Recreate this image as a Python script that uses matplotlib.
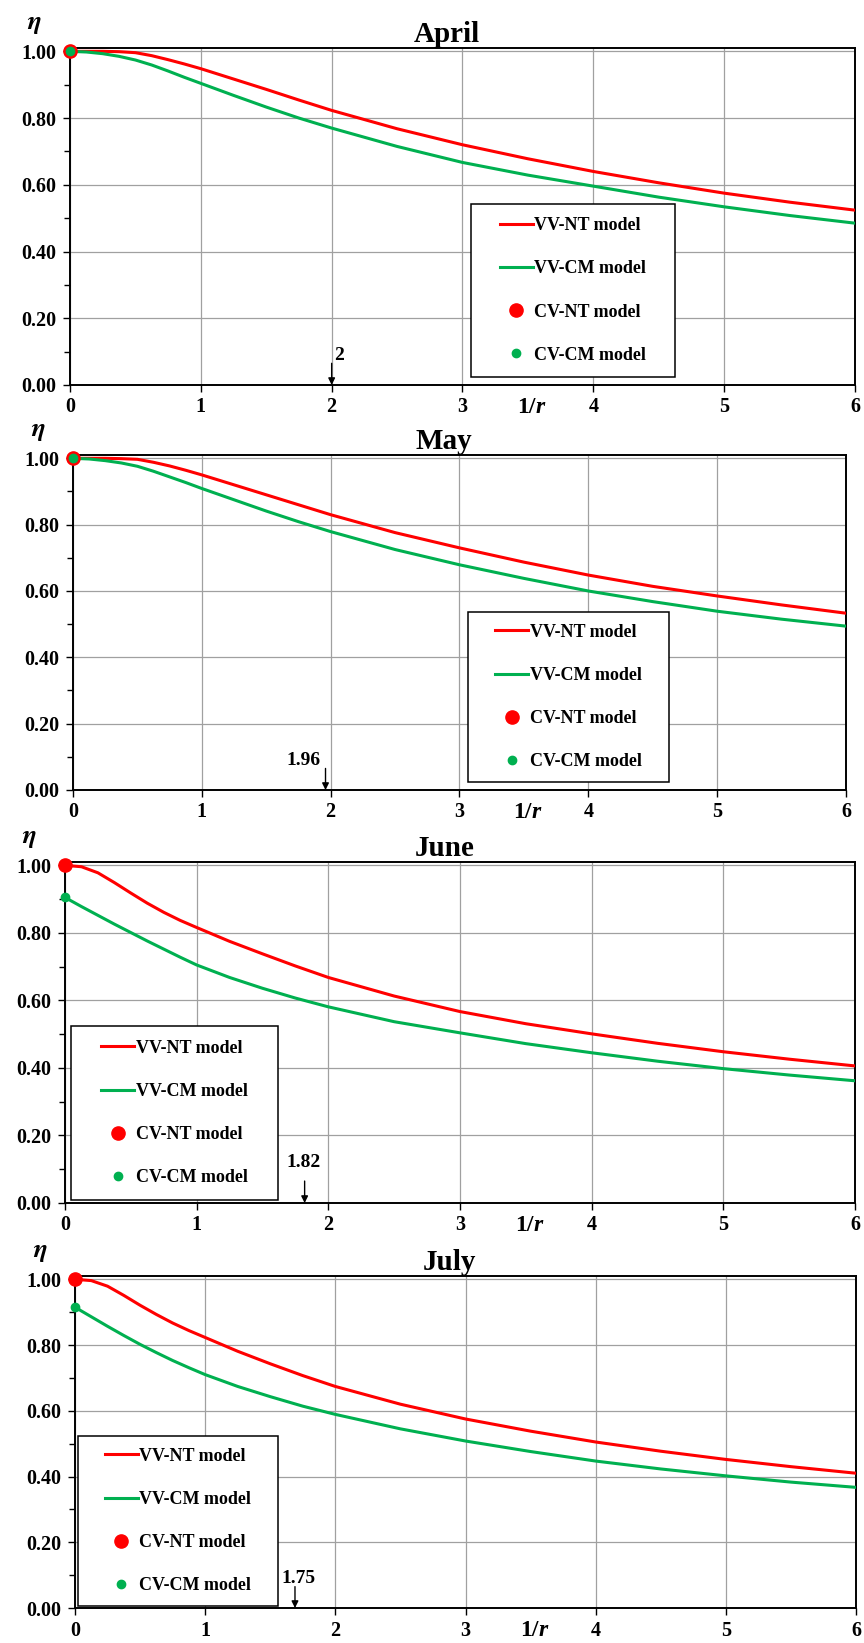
import matplotlib
matplotlib.use('Agg')
import matplotlib.pyplot as plt
from matplotlib.ticker import MultipleLocator, FormatStrFormatter
from matplotlib.lines import Line2D
from matplotlib.patches import Rectangle

plt.rcParams['font.family'] = 'Liberation Serif'
plt.rcParams['font.weight'] = 'bold'
plt.rcParams['mathtext.fontset'] = 'stix'

# 1/r sample points shared by all months
x_vals = [0, 0.125, 0.25, 0.375, 0.5, 0.625, 0.75, 0.875, 1, 1.25, 1.5, 1.75, 2,
          2.5, 3, 3.5, 4, 4.5, 5, 5.5, 6]

months = ['April', 'May', 'June', 'July']

vv_nt = {
    'April': [1.0, 1.0, 1.0, 0.999, 0.996, 0.987, 0.975, 0.962, 0.948, 0.917, 0.886, 0.854, 0.823,
              0.768, 0.720, 0.678, 0.640, 0.606, 0.575, 0.548, 0.524],
    'May':   [1.0, 1.0, 1.0, 0.999, 0.997, 0.988, 0.977, 0.964, 0.950, 0.920, 0.890, 0.860, 0.830,
              0.776, 0.730, 0.687, 0.648, 0.614, 0.585, 0.558, 0.533],
    'June':  [1.0, 0.996, 0.978, 0.949, 0.918, 0.888, 0.861, 0.837, 0.816, 0.775, 0.738, 0.702, 0.668,
              0.613, 0.567, 0.531, 0.501, 0.473, 0.448, 0.426, 0.406],
    'July':  [1.0, 0.996, 0.979, 0.951, 0.921, 0.893, 0.867, 0.844, 0.823, 0.781, 0.743, 0.707, 0.674,
              0.620, 0.575, 0.538, 0.505, 0.477, 0.452, 0.430, 0.410],
}
vv_cm = {
    'April': [1.0, 0.998, 0.993, 0.985, 0.974, 0.959, 0.941, 0.922, 0.904, 0.868, 0.833, 0.800, 0.770,
              0.715, 0.667, 0.629, 0.596, 0.563, 0.534, 0.508, 0.485],
    'May':   [1.0, 0.998, 0.993, 0.986, 0.976, 0.961, 0.944, 0.927, 0.909, 0.875, 0.841, 0.809, 0.779,
              0.725, 0.679, 0.638, 0.600, 0.568, 0.539, 0.515, 0.494],
    'June':  [0.905, 0.878, 0.852, 0.826, 0.801, 0.776, 0.752, 0.728, 0.705, 0.668, 0.636, 0.607, 0.581,
              0.537, 0.504, 0.472, 0.445, 0.420, 0.398, 0.379, 0.362],
    'July':  [0.915, 0.886, 0.857, 0.829, 0.802, 0.777, 0.753, 0.731, 0.710, 0.674, 0.643, 0.614, 0.589,
              0.545, 0.508, 0.476, 0.447, 0.423, 0.402, 0.383, 0.367],
}
cv_nt = {'April': 1.0, 'May': 1.0, 'June': 1.0, 'July': 1.0}
cv_cm = {'April': 1.0, 'May': 1.0, 'June': 0.905, 'July': 0.915}

# critical 1/r marked with an arrow
arrow_x = {'April': 2.0, 'May': 1.96, 'June': 1.82, 'July': 1.69}
arrow_lbl = {'April': '2', 'May': '1.96', 'June': '1.82', 'July': '1.75'}

labels = ['VV-NT model', 'VV-CM model', 'CV-NT model', 'CV-CM model']

RED = '#ff0000'
GREEN = '#00b050'

# axes rectangles in pixels: left, right, top, bottom
W, H = 864, 1643
boxes = {
    'April': (70, 855, 48, 385),
    'May': (73, 846, 455, 790),
    'June': (65, 855, 862, 1203),
    'July': (75, 856, 1276, 1608),
}
# legend box in axes fraction: x0, y0, w, h
leg_box = {
    'April': (0.511, 0.024, 0.260, 0.513),
    'May': (0.511, 0.024, 0.260, 0.507),
    'June': (0.008, 0.009, 0.261, 0.510),
    'July': (0.004, 0.006, 0.256, 0.512),
}
# arrow text placement: (x, y, ha)
lbl_pos = {
    'April': (2.02, 0.087, 'left'),
    'May': (1.92, 0.09, 'right'),
    'June': (1.81, 0.12, 'center'),
    'July': (1.72, 0.09, 'center'),
}

fig = plt.figure(figsize=(W / 100, H / 100), dpi=100)

for m in months:
    l, r, t, b = boxes[m]
    ax = fig.add_axes([l / W, 1 - b / H, (r - l) / W, (b - t) / H])

    ax.plot(x_vals, vv_nt[m], color=RED, lw=2.2, zorder=3, solid_joinstyle='round')
    ax.plot(x_vals, vv_cm[m], color=GREEN, lw=2.2, zorder=3, solid_joinstyle='round')
    ax.plot([0], [cv_nt[m]], 'o', color=RED, ms=9.5, zorder=4, clip_on=False)
    ax.plot([0], [cv_cm[m]], 'o', color=GREEN, ms=6, zorder=5, clip_on=False)

    ax.set_xlim(0, 6)
    ax.set_ylim(0, 1.01)
    ax.xaxis.set_major_locator(MultipleLocator(1))
    ax.yaxis.set_major_locator(MultipleLocator(0.2))
    ax.yaxis.set_minor_locator(MultipleLocator(0.1))
    ax.yaxis.set_major_formatter(FormatStrFormatter('%.2f'))
    ax.tick_params(axis='both', which='both', direction='out', labelsize=14.5,
                   width=1.0, length=5)
    ax.tick_params(axis='x', pad=4)
    ax.tick_params(axis='y', pad=5)
    ax.tick_params(axis='y', which='minor', length=4)
    for lab in ax.get_xticklabels() + ax.get_yticklabels():
        lab.set_fontweight('bold')

    ax.grid(True, which='major', color='#a0a0a0', lw=0.9)
    ax.set_axisbelow(True)
    for s in ax.spines.values():
        s.set_color('black')
        s.set_linewidth(1.4)

    ax.text(0.48, 1.0, m, transform=ax.transAxes, ha='center', va='bottom',
            fontsize=21, fontweight='bold')
    ax.text(-0.045, 1.07, r'$\eta$', transform=ax.transAxes, ha='center',
            va='center', fontsize=19)

    # 1/r label sitting among the x tick labels
    ax.text(3.56, -0.035, '1/', transform=ax.get_xaxis_transform(), ha='right',
            va='top', fontsize=17, fontweight='bold')
    ax.text(3.56, -0.035, 'r', transform=ax.get_xaxis_transform(), ha='left',
            va='top', fontsize=17, fontweight='bold', fontstyle='italic')

    xa = arrow_x[m]
    ax.annotate('', xy=(xa, 0), xytext=(xa, 0.065),
                arrowprops=dict(arrowstyle='-|>', color='black', lw=1.0,
                                mutation_scale=10, shrinkA=0, shrinkB=0))
    lx, ly, lha = lbl_pos[m]
    ax.text(lx, ly, arrow_lbl[m], ha=lha, va='center', fontsize=14,
            fontweight='bold')

    # legend: framed box drawn separately, entries centred in it
    bx, by, bw, bh = leg_box[m]
    ax.add_patch(Rectangle((bx, by), bw, bh, transform=ax.transAxes,
                           facecolor='white', edgecolor='black', lw=1.1,
                           zorder=6))
    handles = [
        Line2D([], [], color=RED, lw=2.2),
        Line2D([], [], color=GREEN, lw=2.2),
        Line2D([], [], ls='none', marker='o', color=RED, ms=9.5),
        Line2D([], [], ls='none', marker='o', color=GREEN, ms=6),
    ]
    leg = ax.legend(handles, labels, loc='center',
                    bbox_to_anchor=(bx + bw / 2, by + bh / 2), borderaxespad=0,
                    frameon=False, prop={'weight': 'bold', 'size': 13},
                    handlelength=1.8, handletextpad=0.1, labelspacing=1.45,
                    borderpad=0)
    leg.set_zorder(7)

fig.savefig('out.png', dpi=100)
